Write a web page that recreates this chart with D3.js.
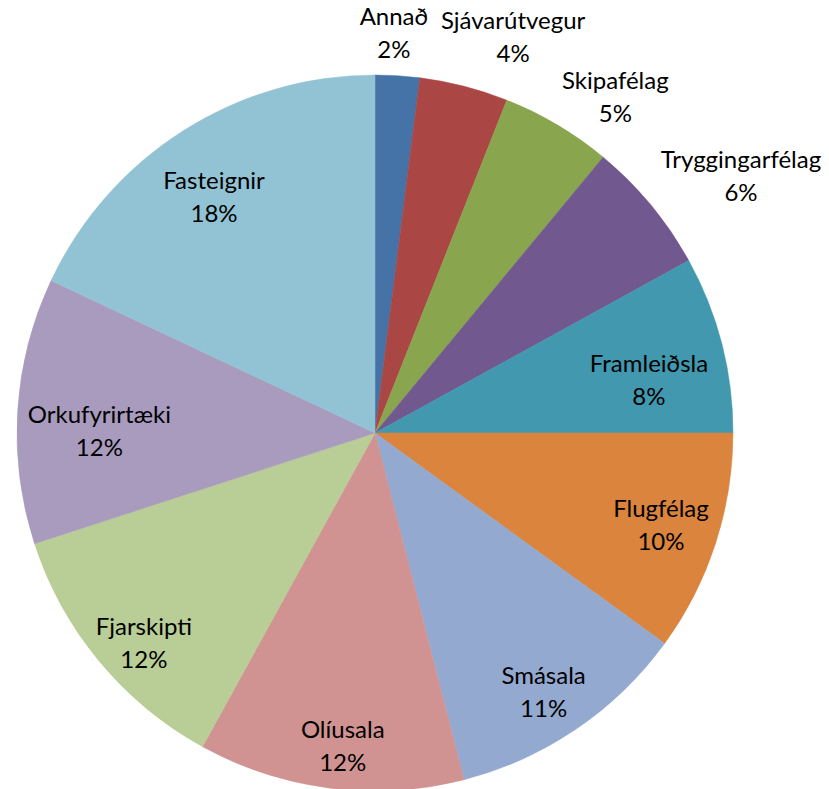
<!DOCTYPE html>
<html>
<head>
<meta charset="utf-8">
<script src="https://cdn.jsdelivr.net/npm/d3@7"></script>
<style>
  html, body { margin: 0; padding: 0; background: #ffffff; }
  svg { display: block; }
  text { font-family: Lato, "Open Sans", sans-serif; fill: #000; }
</style>
</head>
<body>
<svg id="chart" width="829" height="789"></svg>
<script>
// Sector shares (%), clockwise from 12 o'clock
const categories = ["Annað", "Sjávarútvegur", "Skipafélag", "Tryggingarfélag", "Framleiðsla",
  "Flugfélag", "Smásala", "Olíusala", "Fjarskipti", "Orkufyrirtæki", "Fasteignir"];
const shares = [2, 4, 5, 6, 8, 10, 11, 12, 12, 12, 18];
const shareLabels = ["2%", "4%", "5%", "6%", "8%", "10%", "11%", "12%", "12%", "12%", "18%"];
const colors = ["#4572A7", "#AA4643", "#89A54E", "#71588F", "#4198AF",
  "#DB843D", "#93A9CF", "#D19392", "#B9CD96", "#A99BBD", "#92C3D4"];

// Label placement: radius as a fraction of the pie radius, plus an angular nudge in degrees
const labelLayout = [
  [1.12, -0.9], [1.173, 4.8], [1.156, 4.9], [1.251, 4.4], [0.78, 3.2],
  [0.838, -0.4], [0.86, 1.0], [0.877, -1.3], [0.87, -2.5], [0.77, -3.0], [0.80, -1.8]
];

const cx = 375, cy = 433, R = 358;
const svg = d3.select("#chart");
const g = svg.append("g").attr("transform", `translate(${cx},${cy})`);

const data = categories.map((c, i) => ({ name: c, value: shares[i], label: shareLabels[i], i }));
const pie = d3.pie().value(d => d.value).sort(null);
const arcs = pie(data);
const arc = d3.arc().innerRadius(0).outerRadius(R);

g.selectAll("path.slice")
  .data(arcs)
  .join("path")
  .attr("class", "slice")
  .attr("d", arc)
  .attr("fill", d => colors[d.data.i])
  .attr("stroke", d => colors[d.data.i])
  .attr("stroke-width", 0.5);

const labels = g.selectAll("text.lbl")
  .data(arcs)
  .join("text")
  .attr("class", "lbl")
  .attr("text-anchor", "middle")
  .attr("font-size", 24)
  .attr("transform", d => {
    const [f, nudge] = labelLayout[d.data.i];
    const a = (d.startAngle + d.endAngle) / 2 + nudge * Math.PI / 180;
    const r = R * f;
    return `translate(${r * Math.sin(a)},${-r * Math.cos(a)})`;
  });

labels.append("tspan").attr("x", 0).attr("y", -7).text(d => d.data.name);
labels.append("tspan").attr("x", 0).attr("y", 26).text(d => d.data.label);
</script>
</body>
</html>
